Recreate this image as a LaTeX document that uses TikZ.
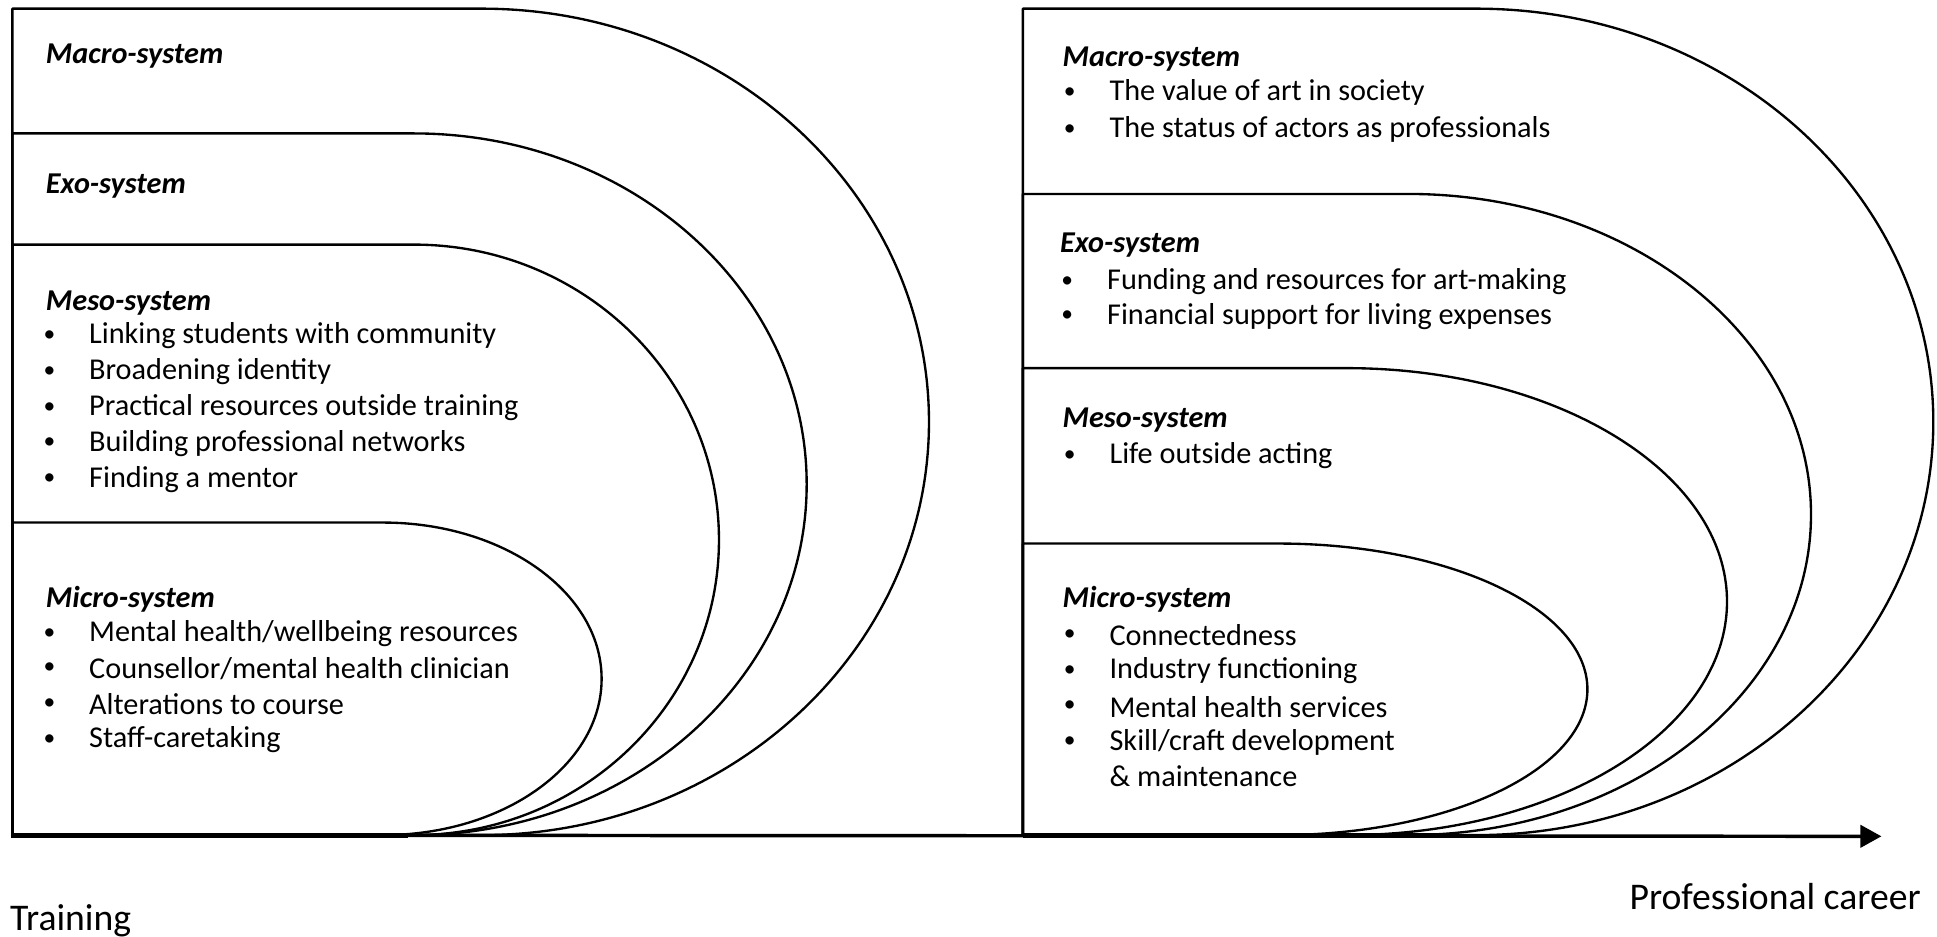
\documentclass[tikz,border=0pt]{standalone}
\usepackage{fontspec}
\setmainfont{Carlito}
\usetikzlibrary{arrows.meta}
\newcommand\sysshape[5]{% x0, ytop, xc, xr, ybot
  \draw[shapeline] (#1,#2) -- (#3,#2) arc[start angle=-90,end angle=90,x radius={#4-#3},y radius={(#5-#2)/2}] -- (#1,#5) -- cycle;}
\begin{document}
\begin{tikzpicture}[x=1pt,y=-1pt,
  shapeline/.style={line width=1.9pt, draw=black, line join=round},
  head/.style={anchor=west, inner sep=0pt, font=\fontsize{24.5}{29}\selectfont\bfseries\itshape},
  item/.style={anchor=west, inner sep=0pt, font=\fontsize{24.5}{29}\selectfont},
  bul/.style={anchor=center, inner sep=0pt, font=\fontsize{19}{29}\selectfont},
  lab/.style={inner sep=0pt, font=\fontsize{30.5}{36}\selectfont}]
\useasboundingbox (0,0) rectangle (1568,758);
\fill[white] (0,0) rectangle (1568,758);
% left panel (training)
\sysshape{10}{7}{390}{752}{676}
\sysshape{10}{108}{335}{653}{676}
\sysshape{10}{198}{335}{582}{676}
\sysshape{10}{423}{310}{487}{676}
% right panel (professional career)
\sysshape{828}{7}{1195}{1565}{676}
\sysshape{828}{157}{1140}{1466}{676}
\sysshape{828}{298}{1090}{1398}{676}
\sysshape{828}{440}{1035}{1285}{676}
% axis
\coordinate (axs) at (9,676);
\coordinate (axe) at (1523,677);
\coordinate (lthk) at (330,676);
\coordinate (rths) at (828,676);
\coordinate (rthk) at (1180,676);
\draw[line width=2.8pt, -{Triangle[length=17pt,width=18pt]}] (axs) -- (axe);
\draw[line width=4.2pt] (axs) -- (lthk);
\draw[line width=4.2pt] (rths) -- (rthk);
% left texts
\node[head] (lmac) at (37,45) {Macro-system};
\node[head] (lexo) at (37,151) {Exo-system};
\node[head] (lmes) at (37,245) {Meso-system};
\node[bul] (lb1) at (40,272) {•}; \node[item] (lt1) at (72,272) {Linking students with community};
\node[bul] (lb2) at (40,301) {•}; \node[item] (lt2) at (72,301) {Broadening identity};
\node[bul] (lb3) at (40,330) {•}; \node[item] (lt3) at (72,330) {Practical resources outside training};
\node[bul] (lb4) at (40,359) {•}; \node[item] (lt4) at (72,359) {Building professional networks};
\node[bul] (lb5) at (40,388) {•}; \node[item] (lt5) at (72,388) {Finding a mentor};
\node[head] (lmic) at (37,485) {Micro-system};
\node[bul] (lb6) at (40,513) {•}; \node[item] (lt6) at (72,513) {Mental health/wellbeing resources};
\node[bul] (lb7) at (40,541) {•}; \node[item] (lt7) at (72,541) {Counsellor/mental health clinician};
\node[bul] (lb8) at (40,570) {•}; \node[item] (lt8) at (72,570) {Alterations to course};
\node[bul] (lb9) at (40,599) {•}; \node[item] (lt9) at (72,599) {Staff-caretaking};
% right texts
\node[head] (rmac) at (860,48) {Macro-system};
\node[bul] (rb1) at (866,75) {•}; \node[item] (rt1) at (898,75) {The value of art in society};
\node[bul] (rb2) at (866,105) {•}; \node[item] (rt2) at (898,105) {The status of actors as professionals};
\node[head] (rexo) at (858,198) {Exo-system};
\node[bul] (rb3) at (864,228) {•}; \node[item] (rt3) at (896,228) {Funding and resources for art-making};
\node[bul] (rb4) at (864,256) {•}; \node[item] (rt4) at (896,256) {Financial support for living expenses};
\node[head] (rmes) at (860,340) {Meso-system};
\node[bul] (rb5) at (866,369) {•}; \node[item] (rt5) at (898,369) {Life outside acting};
\node[head] (rmic) at (860,485) {Micro-system};
\node[bul] (rb6) at (866,514) {•}; \node[item] (rt6) at (898,514) {Connectedness};
\node[bul] (rb7) at (866,543) {•}; \node[item] (rt7) at (898,543) {Industry functioning};
\node[bul] (rb8) at (866,572) {•}; \node[item] (rt8) at (898,572) {Mental health services};
\node[bul] (rb9) at (866,601) {•}; \node[item] (rt9) at (898,601) {Skill/craft development};
\node[item] (rt10) at (898,628) {\& maintenance};
% bottom labels
\node[lab, anchor=west] (train) at (8,745) {Training};
\node[lab, anchor=east] (prof) at (1555,726) {Professional career};
\end{tikzpicture}
\end{document}
